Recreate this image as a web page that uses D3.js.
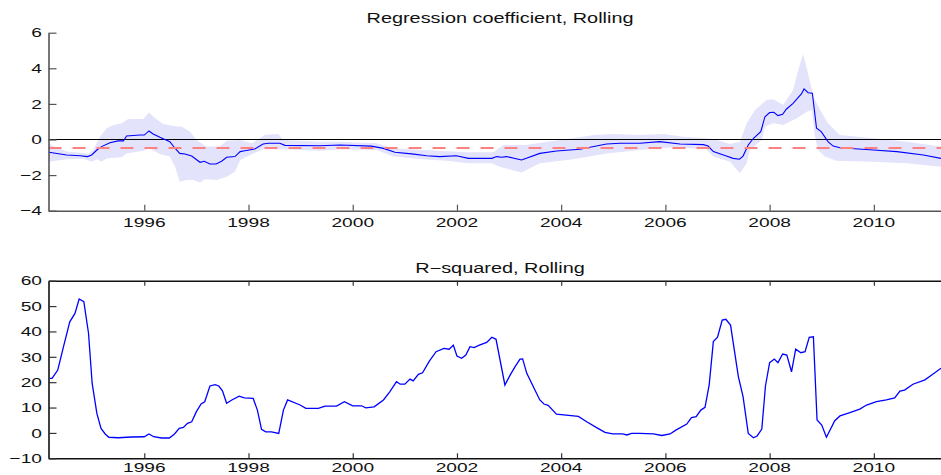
<!DOCTYPE html>
<meta charset="utf-8">
<html>
<head>
<title>Rolling regression</title>
<script src="https://d3js.org/d3.v7.min.js"></script>
<style>
  body {margin: 0; background: #fff;}
  svg {display: block; font-family: "Liberation Sans", Arial, sans-serif;}
  .tick-label {font-size: 13.5px; fill: #111;}
  .title {font-size: 14px; fill: #111;}
</style>
</head>
<body>
<svg id="chart" width="941" height="475"></svg>
<script>
// ---- data ----
var coefYears = [1994.17,1994.51,1994.77,1994.91,1994.99,1995.09,1995.18,1995.34,1995.50,1995.60,1995.66,1995.92,1996.0,1996.09,1996.17,1996.30,1996.49,1996.59,1996.68,1996.78,1996.91,1997.07,1997.15,1997.26,1997.38,1997.49,1997.58,1997.74,1997.84,1997.93,1998.12,1998.28,1998.38,1998.60,1998.70,1999.37,1999.75,2000.36,2000.59,2000.81,2001.13,2001.42,2001.67,2001.99,2002.22,2002.67,2002.76,2002.86,2002.95,2003.24,2003.59,2003.91,2004.36,2004.87,2005.13,2005.51,2005.89,2006.28,2006.73,2006.82,2006.92,2007.17,2007.30,2007.42,2007.49,2007.59,2007.69,2007.83,2007.91,2008.0,2008.08,2008.16,2008.25,2008.32,2008.45,2008.55,2008.61,2008.66,2008.74,2008.82,2008.90,2008.99,2009.12,2009.22,2009.35,2009.99,2010.44,2010.95,2011.29];
var coefValues = [-0.72,-0.87,-0.91,-0.96,-0.87,-0.59,-0.40,-0.18,-0.08,-0.08,0.2,0.25,0.25,0.48,0.31,0.12,-0.12,-0.49,-0.78,-0.81,-0.93,-1.28,-1.22,-1.38,-1.38,-1.21,-1.0,-0.96,-0.68,-0.63,-0.53,-0.25,-0.21,-0.21,-0.33,-0.35,-0.31,-0.37,-0.5,-0.72,-0.81,-0.91,-0.96,-0.91,-1.06,-1.06,-0.96,-1.0,-0.96,-1.15,-0.78,-0.65,-0.55,-0.25,-0.21,-0.21,-0.12,-0.25,-0.29,-0.37,-0.68,-0.93,-1.06,-1.11,-0.93,-0.31,0.07,0.44,1.28,1.51,1.53,1.34,1.42,1.70,2.03,2.37,2.56,2.84,2.63,2.60,0.63,0.44,-0.12,-0.37,-0.46,-0.59,-0.68,-0.87,-1.06];

var bandUpYears = [1994.17,1994.35,1994.51,1994.93,1995.02,1995.15,1995.28,1995.41,1995.57,1995.69,1995.98,1996.09,1996.21,1996.36,1996.56,1996.72,1996.88,1997.0,1997.19,1997.45,1997.58,1997.84,1998.06,1998.22,1998.32,1998.57,1998.67,1999.37,1999.75,2000.46,2000.78,2001.35,2002.19,2002.70,2002.89,2003.34,2003.72,2004.23,2004.62,2005.0,2005.51,2005.96,2006.34,2006.79,2006.98,2007.24,2007.43,2007.56,2007.72,2007.94,2008.07,2008.26,2008.45,2008.55,2008.64,2008.73,2008.84,2008.99,2009.12,2009.35,2009.99,2010.63,2011.29];
var bandUp = [-0.25,-0.49,-0.68,-0.78,-0.59,0.16,0.63,0.81,0.91,1.15,1.15,1.51,1.19,0.87,0.76,0.72,0.44,-0.03,-0.4,-0.4,-0.07,-0.03,-0.21,0.07,0.27,0.31,-0.03,-0.12,-0.12,-0.21,-0.49,-0.59,-0.72,-0.72,-0.31,-0.31,-0.12,0.07,0.25,0.31,0.25,0.31,0.16,0.07,-0.03,-0.25,-0.12,0.91,1.66,2.22,2.26,1.94,2.78,3.9,4.8,3.81,2.40,1.56,0.91,0.25,0.07,-0.12,-0.4];

var bandLoYears = [1994.17,1994.51,1994.83,1994.99,1995.09,1995.18,1995.28,1995.57,1995.66,1995.98,1996.09,1996.30,1996.49,1996.59,1996.68,1996.81,1996.94,1997.07,1997.16,1997.39,1997.58,1997.74,1997.84,1998.03,1998.28,1998.67,1999.37,1999.75,2000.46,2000.78,2001.35,2001.80,2002.22,2002.67,2002.82,2003.24,2003.59,2004.23,2004.87,2005.51,2006.15,2006.79,2006.92,2007.24,2007.43,2007.56,2007.62,2007.85,2007.91,2008.07,2008.26,2008.52,2008.71,2008.81,2008.87,2008.93,2009.06,2009.28,2009.99,2010.63,2011.29];
var bandLo = [-1.25,-1.11,-1.08,-1.25,-1.11,-1.25,-1.06,-1.0,-0.78,-0.63,-0.49,-0.81,-0.96,-1.53,-2.37,-2.28,-2.28,-2.43,-2.24,-2.28,-2.09,-1.81,-1.15,-0.87,-0.55,-0.55,-0.63,-0.55,-0.59,-0.96,-1.11,-1.19,-1.34,-1.34,-1.53,-1.86,-1.34,-1.11,-0.78,-0.59,-0.44,-0.55,-0.96,-1.25,-1.90,-1.34,-0.59,-0.03,0.72,0.91,0.81,1.19,1.56,1.66,0.16,-0.59,-0.96,-1.19,-1.25,-1.34,-1.53];

var meanCoef = -0.48;

var r2Years = [1994.19,1994.23,1994.34,1994.45,1994.57,1994.67,1994.75,1994.84,1994.93,1995.0,1995.09,1995.17,1995.25,1995.32,1995.50,1995.76,1996.0,1996.09,1996.18,1996.33,1996.48,1996.58,1996.67,1996.75,1996.83,1996.91,1997.0,1997.09,1997.16,1997.26,1997.36,1997.43,1997.50,1997.58,1997.68,1997.82,1997.92,1998.09,1998.17,1998.25,1998.33,1998.44,1998.58,1998.67,1998.75,1998.99,1999.10,1999.34,1999.47,1999.69,1999.84,2000.0,2000.17,2000.25,2000.41,2000.59,2000.71,2000.84,2000.91,2001.0,2001.10,2001.16,2001.26,2001.34,2001.47,2001.60,2001.75,2001.85,2001.93,2002.0,2002.09,2002.17,2002.25,2002.33,2002.43,2002.57,2002.67,2002.75,2002.92,2003.02,2003.11,2003.21,2003.26,2003.34,2003.48,2003.59,2003.67,2003.75,2003.91,2004.33,2004.49,2004.68,2004.84,2004.99,2005.18,2005.26,2005.35,2005.51,2005.77,2005.93,2006.09,2006.20,2006.41,2006.50,2006.59,2006.68,2006.76,2006.84,2006.92,2007.0,2007.09,2007.16,2007.25,2007.40,2007.49,2007.59,2007.69,2007.76,2007.85,2007.92,2008.0,2008.09,2008.16,2008.25,2008.33,2008.42,2008.50,2008.60,2008.68,2008.76,2008.84,2008.91,2009.0,2009.09,2009.25,2009.35,2009.54,2009.73,2009.86,2010.05,2010.24,2010.40,2010.50,2010.59,2010.75,2010.98,2011.11,2011.29];
var r2Values = [21.5,21.5,24.8,34,43.8,47.1,52.8,51.7,39.3,19.5,7.7,1.8,-0.4,-1.7,-1.9,-1.6,-1.5,-0.4,-1.5,-2.0,-2.0,-0.4,1.8,2.2,3.8,4.4,8.4,11.4,12.3,18.5,19.0,18.5,16.6,11.7,13.0,14.5,13.8,13.6,9.0,1.4,0.4,0.4,-0.2,9.0,13.0,11.0,9.7,9.7,10.6,10.6,12.3,10.7,10.7,9.9,10.3,13.0,16.2,20.2,19.2,19.2,21.2,20.5,23.1,23.7,28.3,32.0,33.3,33.0,34.6,30.3,29.4,30.7,34.0,33.6,34.6,35.7,37.7,36.9,18.9,22.8,25.9,29.1,29.2,23.5,17.6,13.0,11.4,10.9,7.4,6.5,4.4,2.1,0.2,-0.4,-0.4,-0.8,-0.2,-0.2,-0.4,-1.0,-0.4,1.1,3.5,6.0,6.4,9.0,10.1,18.9,36.0,37.7,44.5,44.8,42.5,22.2,14.3,-0.2,-1.9,-1.2,1.5,18.5,27.7,29.1,27.7,31.1,30.7,24.1,33.0,31.6,32.0,37.7,37.9,5.1,3.1,-1.7,4.8,6.7,8.0,9.4,11.0,12.3,13.0,13.8,16.5,16.9,19.2,20.9,22.8,25.5];

var yearTicks = [1996, 1998, 2000, 2002, 2004, 2006, 2008, 2010];
var coefTicks = [-4, -2, 0, 2, 4, 6];
var r2Ticks = [-10, 0, 10, 20, 30, 40, 50, 60];

var titleTop = "Regression coefficient, Rolling";
var titleBottom = "R\u2212squared, Rolling";

// ---- layout ----
var svg = d3.select("#chart");
var stretch = 1.42;   // the original text is wide
var fmt = function(v) { return v < 0 ? "\u2212" + Math.abs(v) : "" + v; };

var x = d3.scaleLinear().domain([1994.162, 2011.49]).range([48.5, 951.5]);
var y1 = d3.scaleLinear().domain([-4, 6]).range([210.7, 32.7]);
var y2 = d3.scaleLinear().domain([-10, 60]).range([458.3, 280.7]);

function label(g, px, py, txt, anchor, cls) {
  g.append("text")
    .attr("class", cls || "tick-label")
    .attr("text-anchor", anchor)
    .attr("transform", "translate(" + px + "," + py + ") scale(" + stretch + ",1)")
    .text(txt);
}

// ---- top panel ----
var panel1 = svg.append("g");

var bandPts = d3.zip(bandUpYears, bandUp)
  .concat(d3.zip(bandLoYears, bandLo).reverse());
panel1.append("path")
  .datum(bandPts)
  .attr("fill", "#e3e3fb")
  .attr("stroke", "none")
  .attr("d", d3.line().x(function(d) { return x(d[0]); }).y(function(d) { return y1(d[1]); }));

panel1.append("line")
  .attr("x1", x.range()[0]).attr("x2", x.range()[1])
  .attr("y1", y1(0)).attr("y2", y1(0))
  .attr("stroke", "#000").attr("stroke-width", 1);

panel1.append("path")
  .datum(d3.zip(coefYears, coefValues))
  .attr("fill", "none")
  .attr("stroke", "#0000ff")
  .attr("stroke-width", 1.1)
  .attr("d", d3.line().x(function(d) { return x(d[0]); }).y(function(d) { return y1(d[1]); }));

panel1.append("line")
  .attr("x1", x.range()[0]).attr("x2", x.range()[1])
  .attr("y1", y1(meanCoef)).attr("y2", y1(meanCoef))
  .attr("stroke", "#ff8080").attr("stroke-width", 2)
  .attr("stroke-dasharray", "13,11");

var topX = panel1.append("g")
  .attr("transform", "translate(0," + y1.range()[0] + ")")
  .call(d3.axisBottom(x).tickValues(yearTicks).tickSizeInner(-6).tickSizeOuter(0).tickFormat(""));
var topY = panel1.append("g")
  .attr("transform", "translate(" + x.range()[0] + ",0)")
  .call(d3.axisLeft(y1).tickValues(coefTicks).tickSizeInner(-8).tickSizeOuter(0).tickFormat(""));
[topX, topY].forEach(function(a) {
  a.select(".domain").attr("stroke", "#555").attr("stroke-width", 1.6);
  a.selectAll(".tick line").attr("stroke", "#555").attr("stroke-width", 1.2);
});

yearTicks.forEach(function(t) { label(panel1, x(t), y1.range()[0] + 16, t, "middle"); });
coefTicks.forEach(function(t) { label(panel1, 42, y1(t) + 4.7, fmt(t), "end"); });
label(panel1, (x.range()[0] + x.range()[1]) / 2, 23, titleTop, "middle", "title");

// ---- bottom panel ----
var panel2 = svg.append("g");

panel2.append("path")
  .datum(d3.zip(r2Years, r2Values))
  .attr("fill", "none")
  .attr("stroke", "#0000ff")
  .attr("stroke-width", 1.3)
  .attr("d", d3.line().x(function(d) { return x(d[0]); }).y(function(d) { return y2(d[1]); }));

var botAxes = [
  panel2.append("g").attr("transform", "translate(0," + y2.range()[0] + ")")
    .call(d3.axisBottom(x).tickValues(yearTicks).tickSizeInner(-5).tickSizeOuter(0).tickFormat("")),
  panel2.append("g").attr("transform", "translate(0," + y2.range()[1] + ")")
    .call(d3.axisTop(x).tickValues(yearTicks).tickSizeInner(-5).tickSizeOuter(0).tickFormat("")),
  panel2.append("g").attr("transform", "translate(" + x.range()[0] + ",0)")
    .call(d3.axisLeft(y2).tickValues(r2Ticks).tickSizeInner(-8).tickSizeOuter(0).tickFormat(""))
];
botAxes.forEach(function(a) {
  a.select(".domain").attr("stroke", "#111").attr("stroke-width", 1.6);
  a.selectAll(".tick line").attr("stroke", "#333").attr("stroke-width", 1.2);
});

yearTicks.forEach(function(t) { label(panel2, x(t), y2.range()[0] + 13.2, t, "middle"); });
r2Ticks.forEach(function(t) { label(panel2, 42, y2(t) + 4.7, fmt(t), "end"); });
label(panel2, (x.range()[0] + x.range()[1]) / 2, 273, titleBottom, "middle", "title");
</script>
</body>
</html>
